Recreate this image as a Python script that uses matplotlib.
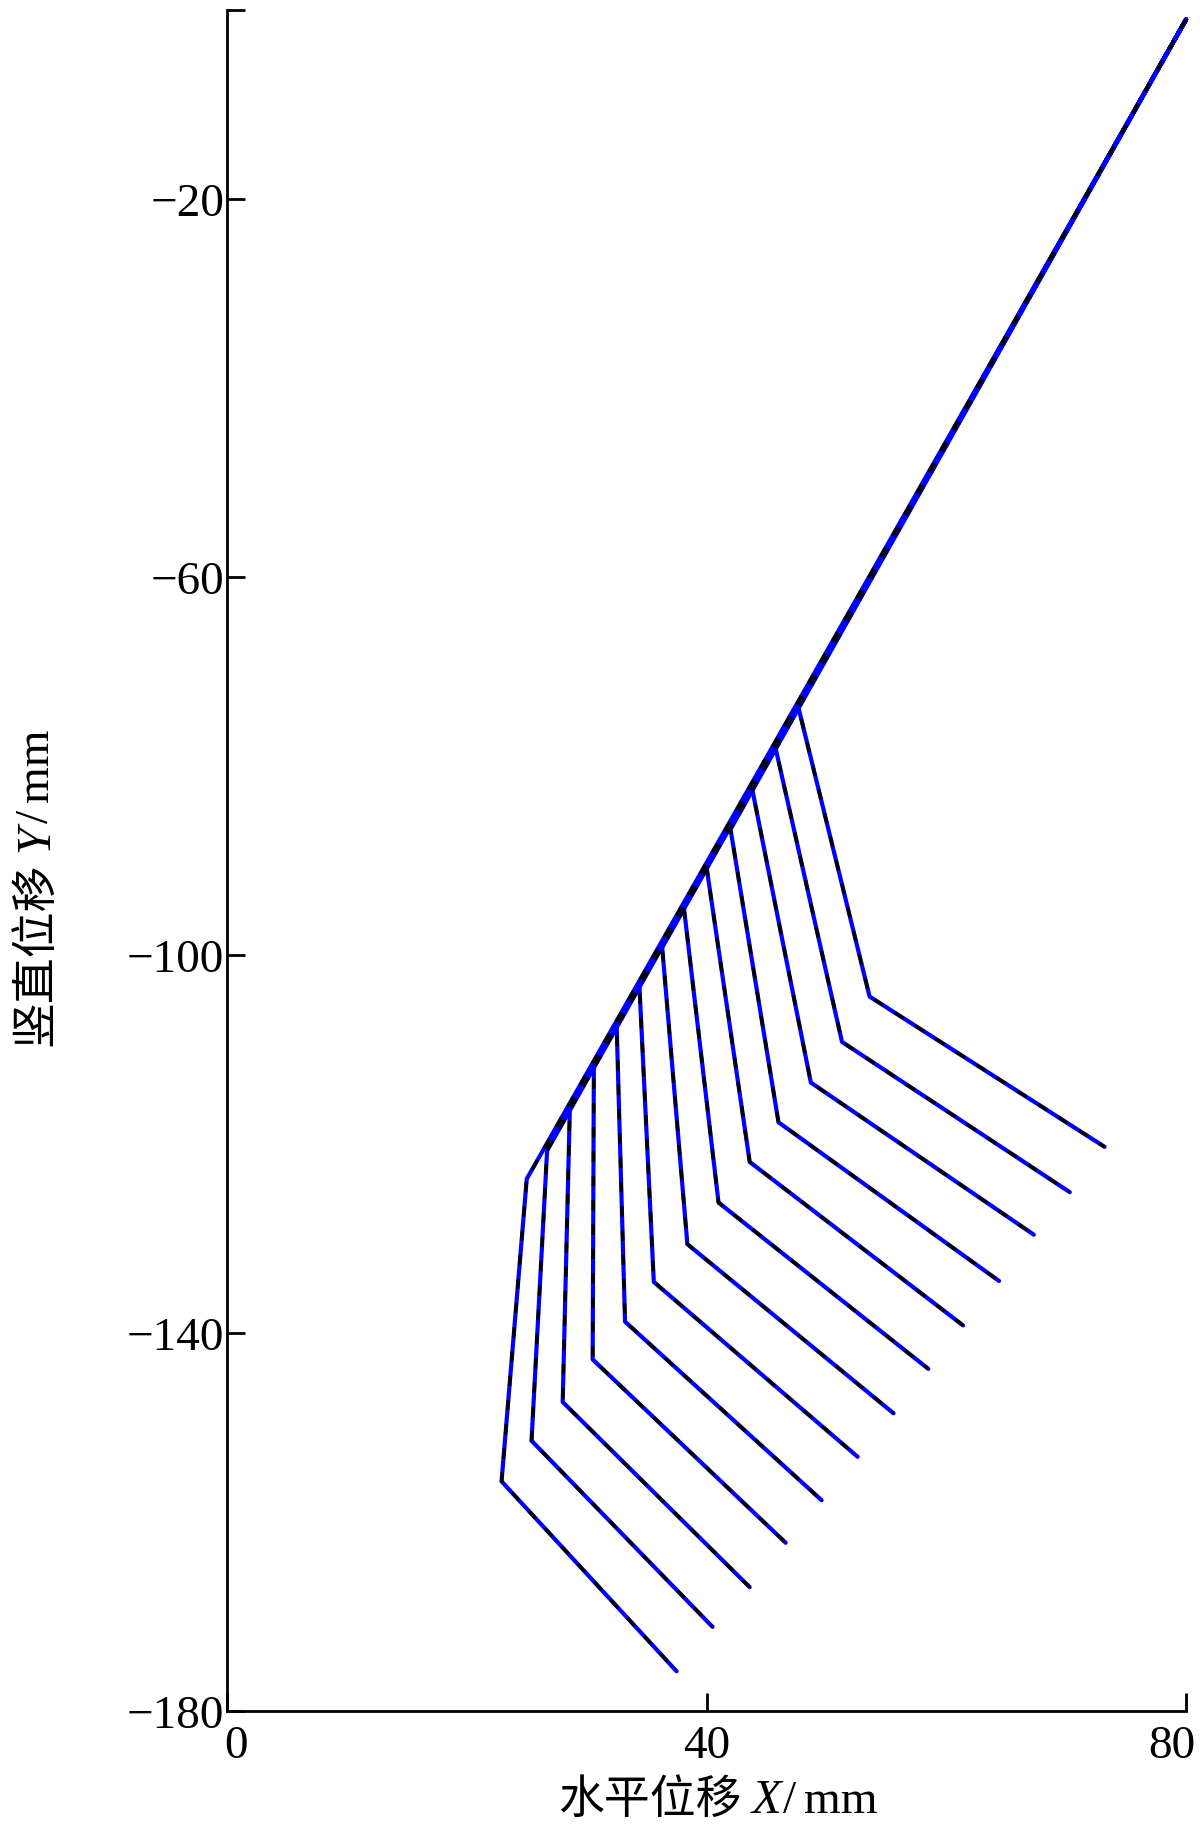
import matplotlib
matplotlib.use("Agg")
import matplotlib.pyplot as plt
import matplotlib.transforms as mtransforms

plt.rcParams['font.family'] = ['Liberation Serif', 'Noto Sans CJK SC']
plt.rcParams['axes.unicode_minus'] = True

# shared top point of all profiles
top_x, top_y = 80.0, -1.0

# points where each profile leaves the common diagonal
branch_x = [47.6, 45.7, 43.8, 42.0, 40.0, 38.1, 36.3, 34.4, 32.5, 30.6, 28.6, 26.7, 25.0]
branch_y = [-73.5, -77.8, -82.4, -86.7, -90.7, -94.9, -99.2, -103.3, -107.4, -111.6, -116.0, -120.7, -123.7]

# knee points
knee_x = [53.6, 51.3, 48.7, 46.0, 43.6, 41.0, 38.4, 35.6, 33.2, 30.5, 28.0, 25.4, 22.9]
knee_y = [-104.4, -109.2, -113.5, -117.7, -121.9, -126.2, -130.6, -134.6, -138.8, -142.8, -147.3, -151.4, -155.7]

# end points
end_x = [73.2, 70.3, 67.3, 64.4, 61.4, 58.5, 55.6, 52.6, 49.6, 46.6, 43.6, 40.5, 37.5]
end_y = [-120.3, -125.1, -129.6, -134.5, -139.2, -143.8, -148.5, -153.1, -157.7, -162.2, -166.9, -171.1, -175.8]

xticks = [0, 40, 80]
yticks = [-180, -140, -100, -60, -20, 0]
ytick_labels = ['\u2212180', '\u2212140', '\u2212100', '\u221260', '\u221220', '']

fig = plt.figure(figsize=(12, 18.31), dpi=100)
ax = fig.add_axes([0.1892, 0.0650, 0.7992, 0.929])

for i in range(len(branch_x)):
    xs = [top_x, branch_x[i], knee_x[i], end_x[i]]
    ys = [top_y, branch_y[i], knee_y[i], end_y[i]]
    ax.plot(xs, ys, color='#0000ff', lw=3.0, solid_capstyle='round', clip_on=False)
    ax.plot(xs, ys, color='black', lw=2.5, dashes=(3, 4), clip_on=False)

ax.set_xlim(0, 80)
ax.set_ylim(-180, 0)
ax.set_xticks(xticks)
ax.set_yticks(yticks)
ax.set_yticklabels(ytick_labels)

ax.spines['top'].set_visible(False)
ax.spines['right'].set_visible(False)
ax.spines['left'].set_linewidth(2.0)
ax.spines['bottom'].set_linewidth(2.0)
ax.tick_params(direction='in', length=13, width=2.0, labelsize=34)
ax.tick_params(axis='x', pad=10)
ax.tick_params(axis='y', pad=2)

# nudge the end labels inward like the original
xl = ax.get_xticklabels()
xl[0].set_transform(xl[0].get_transform() + mtransforms.ScaledTranslation(0.09, 0, fig.dpi_scale_trans))
xl[2].set_transform(xl[2].get_transform() + mtransforms.ScaledTranslation(-0.14, 0, fig.dpi_scale_trans))

# axis labels: Chinese text + italic variable + unit
renderer = fig.canvas.get_renderer()
W, H = fig.bbox.width, fig.bbox.height
cjk = dict(family=['Noto Sans CJK SC'], fontsize=33)
it = dict(family=['Liberation Serif'], style='italic', fontsize=35)
rm = dict(family=['Liberation Serif'], fontsize=34)


def mixed_label(cx, base, parts, vertical=False):
    widths = []
    for s, kw, gap in parts:
        t = fig.text(0, 0, s, **kw)
        widths.append(t.get_window_extent(renderer).width + gap)
        t.remove()
    pos = cx - sum(widths) / 2
    for (s, kw, gap), w in zip(parts, widths):
        if vertical:
            fig.text(base / W, pos / H, s, rotation=90, rotation_mode='anchor',
                     ha='left', va='baseline', **kw)
        else:
            fig.text(pos / W, base / H, s, ha='left', va='baseline', **kw)
        pos += w


mixed_label(718, 1831 - 1813,
            [('水平位移', cjk, 10), ('X', it, 2), ('/', rm, 8), ('mm', rm, 0)])
mixed_label(1831 - 887, 48,
            [('竖直位移', cjk, 10), ('Y', it, 2), ('/', rm, 8), ('mm', rm, 0)], vertical=True)

fig.savefig('out.png', dpi=100, facecolor='white')
